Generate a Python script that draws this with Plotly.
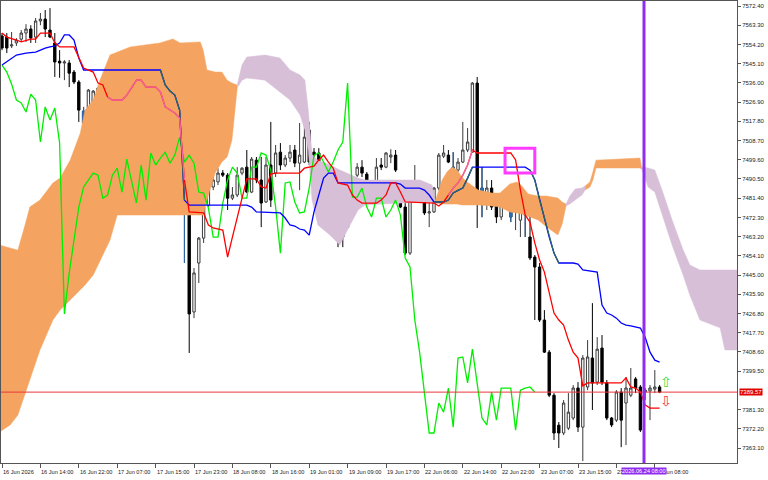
import plotly.graph_objects as go

# ---------------- data ----------------
opens = [
    7558.2, 7557.7, 7553.5, 7554.9, 7556.7, 7559.6, 7561.5, 7557.7, 7565.3, 7566.2,
    7561.0, 7554.9, 7546.3, 7545.4, 7545.4, 7541.1, 7536.4, 7522.6, 7521.7, 7526.9,
    7527.9, 7536.4, 7540.6, 7538.3, 7540.6, 7542.1, 7539.2, 7544.4, 7528.8, 7535.4,
    7528.4, 7526.5, 7523.1, 7523.1, 7517.0, 7508.9, 7524.6, 7519.3, 7523.1, 7523.1,
    7427.5, 7450.7, 7462.5, 7478.1, 7486.7, 7489.1, 7493.3, 7492.3, 7481.4, 7482.9,
    7493.3, 7496.1, 7484.3, 7499.4, 7490.0, 7479.6, 7497.1, 7493.3, 7503.2, 7497.1,
    7500.4, 7504.2, 7498.0, 7498.5, 7513.6, 7503.2, 7502.8, 7495.6, 7484.3, 7483.8,
    7476.2, 7468.7, 7467.7, 7479.1, 7492.3, 7496.1, 7492.8, 7481.9, 7481.9, 7497.1,
    7496.1, 7500.9, 7501.8, 7480.5, 7477.2, 7455.4, 7488.6, 7489.1, 7479.6, 7474.4,
    7474.9, 7486.2, 7501.3, 7501.8, 7496.1, 7494.7, 7498.5, 7504.2, 7503.2, 7535.9,
    7486.2, 7483.8, 7486.2, 7478.1, 7472.5, 7479.6, 7483.8, 7474.9, 7471.0, 7480.5,
    7463.0, 7453.5, 7448.8, 7423.7, 7408.5, 7388.1, 7373.9, 7370.2, 7372.5, 7377.3,
    7391.5, 7373.0, 7392.0, 7405.7, 7394.3, 7410.4, 7393.9, 7377.3, 7376.3, 7389.6,
    7384.4, 7388.1, 7395.8, 7392.0, 7389.6, 7390.1, 7391.0, 7392.0]
highs = [
    7559.6, 7559.6, 7560.1, 7557.2, 7561.0, 7563.8, 7563.3, 7566.7, 7569.1, 7570.5,
    7571.4, 7559.6, 7551.5, 7546.8, 7546.8, 7542.1, 7537.3, 7524.6, 7533.1, 7532.6,
    7534.0, 7537.3, 7542.1, 7541.6, 7542.5, 7544.0, 7545.4, 7548.2, 7537.3, 7536.4,
    7530.2, 7527.9, 7531.6, 7528.8, 7523.1, 7526.5, 7526.5, 7525.5, 7527.9, 7525.5,
    7448.3, 7463.0, 7478.1, 7496.1, 7496.1, 7495.6, 7494.7, 7493.3, 7486.7, 7496.1,
    7496.1, 7504.2, 7500.9, 7500.9, 7500.9, 7500.9, 7517.5, 7506.6, 7507.5, 7501.8,
    7506.6, 7506.6, 7517.0, 7517.5, 7517.5, 7505.1, 7505.1, 7498.0, 7485.2, 7485.2,
    7477.2, 7469.6, 7480.0, 7491.4, 7498.0, 7499.4, 7493.8, 7482.9, 7500.4, 7500.4,
    7503.2, 7504.6, 7504.2, 7481.0, 7479.1, 7489.1, 7497.1, 7490.0, 7480.5, 7479.1,
    7486.7, 7502.8, 7506.6, 7504.2, 7503.2, 7500.4, 7517.5, 7514.6, 7536.4, 7538.8,
    7496.1, 7490.0, 7490.0, 7482.9, 7481.9, 7482.9, 7485.2, 7477.2, 7486.7, 7481.4,
    7473.4, 7454.5, 7450.7, 7428.4, 7409.5, 7389.1, 7375.4, 7385.8, 7389.1, 7392.9,
    7394.3, 7407.1, 7414.2, 7431.7, 7415.6, 7416.6, 7395.3, 7377.8, 7390.5, 7391.5,
    7396.7, 7401.0, 7396.7, 7392.9, 7391.5, 7392.9, 7400.0, 7392.9]
lows = [
    7551.5, 7550.1, 7552.5, 7553.5, 7555.4, 7555.4, 7554.9, 7554.9, 7563.3, 7557.7,
    7557.2, 7538.8, 7538.4, 7537.3, 7534.0, 7535.4, 7517.5, 7512.7, 7520.7, 7525.5,
    7526.9, 7532.6, 7537.3, 7536.4, 7539.2, 7538.3, 7537.3, 7537.3, 7526.9, 7526.5,
    7524.6, 7518.4, 7521.7, 7521.7, 7496.6, 7505.6, 7517.0, 7516.0, 7450.7, 7408.1,
    7424.6, 7441.2, 7460.2, 7477.2, 7485.2, 7487.6, 7491.4, 7475.8, 7480.5, 7481.9,
    7492.3, 7483.8, 7483.8, 7488.5, 7467.7, 7479.1, 7477.2, 7491.4, 7494.7, 7496.1,
    7498.5, 7496.1, 7485.2, 7498.0, 7497.1, 7499.4, 7496.1, 7483.8, 7481.9, 7475.8,
    7458.2, 7458.2, 7466.8, 7478.1, 7491.4, 7491.4, 7480.5, 7480.5, 7481.4, 7494.7,
    7495.6, 7498.0, 7493.8, 7476.7, 7454.5, 7454.5, 7487.6, 7479.1, 7473.4, 7467.7,
    7474.4, 7485.2, 7500.4, 7498.0, 7493.3, 7493.8, 7498.0, 7503.2, 7502.8, 7467.3,
    7472.4, 7475.8, 7475.8, 7469.6, 7471.0, 7478.1, 7470.1, 7466.3, 7463.0, 7463.0,
    7452.1, 7423.7, 7422.8, 7408.1, 7387.2, 7366.9, 7363.1, 7369.2, 7371.6, 7376.3,
    7370.7, 7356.9, 7390.5, 7381.1, 7392.9, 7392.9, 7376.3, 7373.0, 7375.4, 7363.5,
    7364.5, 7387.2, 7389.1, 7370.7, 7385.8, 7376.3, 7389.1, 7389.1]
closes = [
    7552.5, 7552.5, 7554.0, 7556.3, 7559.6, 7561.5, 7557.2, 7565.3, 7566.2, 7561.5,
    7557.7, 7545.9, 7545.4, 7545.9, 7540.6, 7536.4, 7523.1, 7517.0, 7532.6, 7532.1,
    7533.5, 7533.1, 7538.3, 7541.1, 7542.1, 7539.7, 7544.4, 7541.1, 7535.4, 7527.9,
    7526.5, 7522.2, 7530.7, 7527.9, 7508.0, 7524.6, 7518.4, 7524.1, 7507.5, 7426.6,
    7446.0, 7462.5, 7477.2, 7486.7, 7490.0, 7493.3, 7492.3, 7481.4, 7482.9, 7492.3,
    7495.6, 7484.3, 7499.9, 7490.0, 7479.1, 7497.1, 7480.5, 7502.8, 7497.1, 7500.4,
    7503.2, 7498.0, 7501.8, 7510.3, 7498.5, 7501.8, 7498.0, 7484.3, 7483.8, 7476.7,
    7463.0, 7463.0, 7479.1, 7490.0, 7496.1, 7493.3, 7481.4, 7481.4, 7496.1, 7496.1,
    7502.8, 7501.8, 7494.7, 7477.2, 7455.4, 7488.6, 7489.1, 7479.6, 7474.4, 7474.9,
    7486.2, 7501.8, 7502.8, 7498.5, 7493.8, 7498.5, 7504.2, 7508.0, 7535.9, 7481.9,
    7481.9, 7486.2, 7477.2, 7472.5, 7481.4, 7481.4, 7472.5, 7475.8, 7480.5, 7473.4,
    7453.1, 7448.8, 7423.7, 7408.5, 7388.1, 7370.2, 7370.2, 7384.4, 7380.1, 7391.5,
    7373.0, 7405.7, 7406.2, 7393.9, 7409.9, 7394.3, 7377.3, 7374.0, 7389.6, 7376.3,
    7391.5, 7391.5, 7391.5, 7371.6, 7390.5, 7391.5, 7392.0, 7389.57]
bars = list(range(len(closes)))
chikou_shift = 26

# Tenkan-sen (red) vertices: bar index, price
tenkan_x = [0, 1, 3, 4, 6, 7, 8, 10, 11, 12, 15, 16, 17, 19, 20, 21, 22, 23, 25, 26,
            27, 28, 29, 30, 32, 33, 34, 35, 36, 37, 38, 39, 42, 43, 44, 46, 47, 48, 49, 50,
            51, 53, 54, 55, 56, 57, 62, 63, 64, 65, 66, 67, 68, 69, 70, 72, 73, 74, 75, 78,
            79, 80, 81, 82, 83, 84, 90, 91, 92, 93, 94, 95, 96, 97, 98, 99, 106, 107, 108, 109,
            110, 111, 112, 113, 114, 115, 116, 117, 118, 119, 120, 121, 122, 129, 130, 131, 132, 133, 134, 135, 137]
tenkan_y = [7559.6, 7557.7, 7556.3, 7555.4, 7556.7, 7556.7, 7559.6, 7559.6, 7554.9, 7553.0,
            7553.0, 7547.8, 7543.0, 7541.1, 7535.9, 7535.0, 7529.3, 7527.9, 7527.9, 7530.2,
            7534.0, 7537.3, 7537.3, 7534.0, 7534.0, 7531.7, 7524.6, 7523.1, 7521.7, 7519.3,
            7490.0, 7474.9, 7474.4, 7468.7, 7467.3, 7466.3, 7453.5, 7463.0, 7472.0, 7481.4,
            7490.5, 7490.5, 7486.7, 7486.2, 7492.8, 7493.3, 7493.3, 7495.6, 7496.1, 7496.6,
            7499.5, 7501.8, 7498.5, 7495.6, 7488.6, 7487.6, 7482.9, 7480.5, 7479.1, 7479.1,
            7480.5, 7482.9, 7488.6, 7488.6, 7484.3, 7479.6, 7479.1, 7477.7, 7479.6, 7482.9,
            7486.2, 7488.6, 7492.3, 7497.1, 7504.2, 7502.8, 7502.8, 7499.5, 7485.2, 7473.4,
            7470.1, 7460.2, 7452.1, 7446.4, 7436.5, 7427.0, 7423.7, 7421.3, 7414.2, 7408.5,
            7405.7, 7392.5, 7393.9, 7393.9, 7396.3, 7392.0, 7391.5, 7389.6, 7383.5, 7382.0, 7382.0]

# Kijun-sen (blue) vertices
kijun_x = [0, 2, 3, 5, 7, 8, 9, 10, 11, 12, 13, 14, 15, 16, 17, 33, 34, 35, 36, 37,
           38, 39, 51, 52, 53, 58, 59, 60, 61, 62, 63, 64, 65, 66, 67, 68, 69, 70, 82, 83,
           84, 87, 88, 89, 90, 92, 93, 94, 95, 96, 97, 98, 109, 110, 111, 112, 113, 114, 115, 116,
           119, 120, 121, 124, 125, 126, 127, 128, 129, 130, 131, 132, 133, 134, 135, 136, 137]
kijun_y = [7544.5, 7547.8, 7549.2, 7550.1, 7550.6, 7551.5, 7552.5, 7553.0, 7553.5, 7554.9,
           7558.7, 7558.7, 7556.3, 7547.8, 7542.1, 7542.1, 7535.0, 7532.1, 7530.2, 7523.1,
           7480.5, 7478.1, 7478.1, 7477.2, 7474.9, 7474.4, 7472.0, 7468.7, 7468.2, 7466.8,
           7466.3, 7463.9, 7474.9, 7482.9, 7490.9, 7493.3, 7493.3, 7488.6, 7488.6, 7488.1,
           7486.2, 7486.2, 7485.2, 7482.9, 7479.6, 7479.6, 7480.5, 7483.9, 7485.2, 7486.2,
           7490.9, 7496.1, 7496.1, 7494.7, 7490.0, 7480.5, 7471.9, 7463.0, 7455.4, 7450.7,
           7450.7, 7450.2, 7447.4, 7446.4, 7430.8, 7427.0, 7426.1, 7424.6, 7422.3, 7421.3,
           7420.9, 7420.4, 7419.9, 7415.5, 7408.5, 7404.7, 7403.8]

# Kumo regions: bar positions, upper edge, lower edge
sand1_x = [-0.5, 1.7, 3.3, 4.8, 5.8, 7.9, 10.6, 12.1, 14.2, 16.3, 17.3, 19.0, 20.4, 22.5, 24.0,
           26.7, 32.9, 35.6, 37.1, 41.3, 41.9, 42.7, 44.4, 45.8, 46.9, 47.9, 49.0]
sand1_hi = [7459.2, 7457.8, 7456.8, 7468.7, 7477.2, 7480.5, 7488.6, 7490.9, 7499.4, 7512.2, 7523.1,
            7527.9, 7537.3, 7549.2, 7550.6, 7553.0, 7554.9, 7556.8, 7554.9, 7555.4, 7551.6, 7542.1,
            7541.1, 7541.1, 7537.3, 7535.9, 7535.0]
sand1_lo = [7370.7, 7374.0, 7378.7, 7388.2, 7395.3, 7409.5, 7423.7, 7428.4, 7433.2, 7437.9, 7440.3,
            7445.0, 7452.1, 7461.6, 7473.4, 7473.4, 7473.4, 7473.4, 7473.4, 7473.4, 7473.4, 7480.5,
            7493.3, 7498.5, 7500.9, 7508.9, 7533.6]
thistle1_x = [49.0, 50.0, 51.0, 54.8, 57.9, 60.0, 62.1, 63.1, 63.8, 64.6, 65.8, 68.3, 70.4, 72.5,
              74.2, 75.6, 87.1, 89.6, 90.2]
thistle1_hi = [7535.0, 7544.5, 7548.2, 7549.2, 7547.8, 7542.1, 7539.7, 7537.3, 7523.1, 7501.8,
               7499.4, 7497.1, 7494.7, 7492.4, 7490.9, 7490.0, 7490.0, 7487.6, 7479.6]
thistle1_lo = [7533.6, 7537.3, 7538.3, 7537.3, 7531.7, 7527.9, 7520.8, 7513.7, 7504.2, 7480.5,
               7468.7, 7464.0, 7459.2, 7468.7, 7475.8, 7478.2, 7479.6, 7479.6, 7479.1]
sand2_x = [90.2, 91.7, 92.7, 93.75, 94.8, 95.8, 96.9, 97.9, 99.2, 102.1, 103.75, 105.8, 107.3,
           108.3, 109.6, 111.7, 113.5, 114.6, 115.8, 116.7, 117.5]
sand2_hi = [7479.6, 7490.0, 7493.8, 7496.2, 7494.7, 7491.4, 7489.1, 7487.6, 7485.3, 7483.8, 7483.8,
            7488.1, 7489.1, 7487.2, 7483.4, 7482.4, 7482.4, 7481.9, 7481.5, 7479.6, 7478.6]
sand2_lo = [7479.1, 7478.6, 7478.6, 7478.6, 7478.6, 7478.2, 7478.2, 7478.2, 7478.2, 7477.7, 7477.2,
            7474.9, 7474.4, 7473.9, 7473.0, 7471.1, 7467.7, 7465.9, 7464.0, 7469.2, 7477.7]
thistle2_x = [117.5, 118.3, 119.4, 120.8, 121.5]
thistle2_hi = [7478.6, 7482.4, 7485.7, 7486.2, 7487.2]
thistle2_lo = [7477.7, 7478.6, 7480.5, 7482.9, 7485.3]
sand3_x = [121.5, 122.5, 123.1, 123.75, 132.9, 133.3]
sand3_hi = [7487.2, 7489.1, 7493.8, 7499.4, 7500.4, 7496.2]
sand3_lo = [7485.3, 7486.7, 7490.0, 7495.7, 7495.7, 7495.2]
thistle3_x = [133.3, 134.6, 136.0, 137.5, 139.6, 141.9, 143.3, 145.4, 149.6, 150.6, 153.5]
thistle3_hi = [7496.2, 7495.7, 7494.7, 7485.3, 7471.1, 7456.9, 7449.8, 7447.4, 7447.4, 7447.4, 7447.4]
thistle3_lo = [7495.2, 7486.7, 7484.3, 7473.4, 7459.2, 7445.0, 7435.5, 7423.7, 7420.0, 7409.5, 7409.5]

# price axis labels and time labels
price_ticks = [7572.40, 7563.30, 7554.20, 7545.10, 7536.00, 7526.90, 7517.80, 7508.70,
               7499.60, 7490.50, 7481.40, 7472.30, 7463.20, 7454.10, 7445.00, 7435.90,
               7426.80, 7417.70, 7408.60, 7399.50, 7381.30, 7372.20, 7363.10]
time_labels = ["16 Jun 2026", "16 Jun 14:00", "16 Jun 22:00", "17 Jun 07:00", "17 Jun 15:00",
               "17 Jun 23:00", "18 Jun 08:00", "18 Jun 16:00", "19 Jun 01:00", "19 Jun 09:00",
               "19 Jun 17:00", "22 Jun 06:00", "22 Jun 14:00", "22 Jun 22:00", "23 Jun 07:00",
               "23 Jun 15:00", "23 Jun 23:00", "24 Jun 08:00"]
label_step = 8
bid_price = 7389.57
vline_bar = 133.75
vline_text = "2026.06.24 08:00"
box_bars = [104.8, 111.0]
box_prices = [7493.3, 7505.1]
signal_bar = 138.3
signal_up_price = 7394.5
signal_dn_price = 7385.5

# ---------------- styling ----------------
SAND = "#F4A460"
THISTLE = "#D8BFD8"
FONT = "Liberation Sans"
cloud_bear = [17, 25, 27, 29, 30, 31, 34, 36, 38, 94, 100, 106, 109]
tenkan_pink = [(22, 38), (93, 98)]
kijun_teal = [(22, 38), (90, 98), (110, 116)]

fig = go.Figure()


def region(xs, hi, lo, color):
    fig.add_trace(go.Scatter(x=list(xs) + list(xs)[::-1], y=list(hi) + list(lo)[::-1],
                             fill="toself", fillcolor=color, mode="lines",
                             line=dict(width=0.5, color=color), hoverinfo="skip",
                             showlegend=False))


region(sand1_x, sand1_hi, sand1_lo, SAND)
region(thistle1_x, thistle1_hi, thistle1_lo, THISTLE)
region(sand2_x, sand2_hi, sand2_lo, SAND)
region(thistle2_x, thistle2_hi, thistle2_lo, THISTLE)
region(sand3_x, sand3_hi, sand3_lo, SAND)
region(thistle3_x, thistle3_hi, thistle3_lo, THISTLE)

fig.add_trace(go.Candlestick(
    x=bars, open=opens, high=highs, low=lows, close=closes,
    increasing=dict(line=dict(color="#3a3a3a", width=1), fillcolor="white"),
    decreasing=dict(line=dict(color="#000000", width=1), fillcolor="black"),
    whiskerwidth=0, showlegend=False, hoverinfo="skip"))
sel = cloud_bear
fig.add_trace(go.Candlestick(
    x=[bars[i] for i in sel], open=[opens[i] for i in sel], high=[highs[i] for i in sel],
    low=[lows[i] for i in sel], close=[closes[i] for i in sel],
    increasing=dict(line=dict(color="#2f6db0", width=1), fillcolor="#2f6db0"),
    decreasing=dict(line=dict(color="#2f6db0", width=1), fillcolor="#2f6db0"),
    whiskerwidth=0, showlegend=False, hoverinfo="skip"))

# Chikou span = closes drawn 26 bars back
fig.add_trace(go.Scatter(x=[b - chikou_shift for b in bars[chikou_shift:]],
                         y=closes[chikou_shift:], mode="lines",
                         line=dict(color="#00ee00", width=1.3), showlegend=False))


def line(xs, ys, color, overlays, ocolor):
    fig.add_trace(go.Scatter(x=xs, y=ys, mode="lines", line=dict(color=color, width=1.3),
                             showlegend=False))
    for a, b in overlays:
        px = [x for x in xs if a <= x <= b]
        py = [y for x, y in zip(xs, ys) if a <= x <= b]
        fig.add_trace(go.Scatter(x=px, y=py, mode="lines", line=dict(color=ocolor, width=1.3),
                                 showlegend=False))


line(kijun_x, kijun_y, "#0000ff", kijun_teal, "#2b6a5e")
line(tenkan_x, tenkan_y, "#ff0000", tenkan_pink, "#f06aa8")

# bid line, vertical marker, box, signals
fig.add_hline(y=bid_price, line=dict(color="#e8393c", width=1))
fig.add_shape(type="line", x0=vline_bar, x1=vline_bar, y0=0, y1=1, yref="paper",
              line=dict(color="#8f2ef0", width=3))
fig.add_shape(type="rect", x0=box_bars[0], x1=box_bars[1], y0=box_prices[0], y1=box_prices[1],
              line=dict(color="#ff3cff", width=3))
fig.add_annotation(x=signal_bar, y=signal_up_price, text="⇧", showarrow=False,
                   font=dict(family="DejaVu Sans", size=14, color="#33dd33"))
fig.add_annotation(x=signal_bar, y=signal_dn_price, text="⇩", showarrow=False,
                   font=dict(family="DejaVu Sans", size=14, color="#ff3333"))

# time labels
for k, t in enumerate(time_labels):
    fig.add_annotation(x=k * label_step, y=0, yref="paper", yanchor="top", xanchor="left",
                       text=t, showarrow=False, yshift=-4, xshift=-1,
                       font=dict(family=FONT, size=5.6, color="#222"))
fig.add_annotation(x=vline_bar, y=0, yref="paper", yanchor="top", xanchor="center",
                   text=vline_text, showarrow=False, yshift=-4, bgcolor="#8f2ef0",
                   borderpad=0, font=dict(family=FONT, size=5.6, color="white"))
fig.add_annotation(x=1, xref="paper", y=bid_price, xanchor="left", text=f"{bid_price:.2f}",
                   showarrow=False, xshift=2, bgcolor="#e00000", borderpad=0,
                   font=dict(family=FONT, size=6, color="white"))

fig.update_layout(
    width=768, height=480, margin=dict(l=1, r=31, t=1, b=17),
    paper_bgcolor="white", plot_bgcolor="white", showlegend=False,
    xaxis=dict(range=[-0.21, 153.125], showgrid=False, zeroline=False,
               rangeslider=dict(visible=False), tickvals=[k * label_step for k in range(len(time_labels))],
               showticklabels=False, ticks="outside", ticklen=4, tickcolor="#555",
               showline=True, linecolor="#555", mirror=True, automargin=False),
    yaxis=dict(range=[7356.0, 7574.77], side="right", showgrid=False, zeroline=False,
               tickvals=price_ticks, ticktext=[f"{v:.2f}" for v in price_ticks],
               ticks="outside", ticklen=3, tickcolor="#555",
               tickfont=dict(family=FONT, size=6, color="#222"),
               showline=True, linecolor="#555", mirror=True, automargin=False),
)
fig.write_html("out.html", config={"displayModeBar": False},
               post_script="document.body.style.margin='0px';")
